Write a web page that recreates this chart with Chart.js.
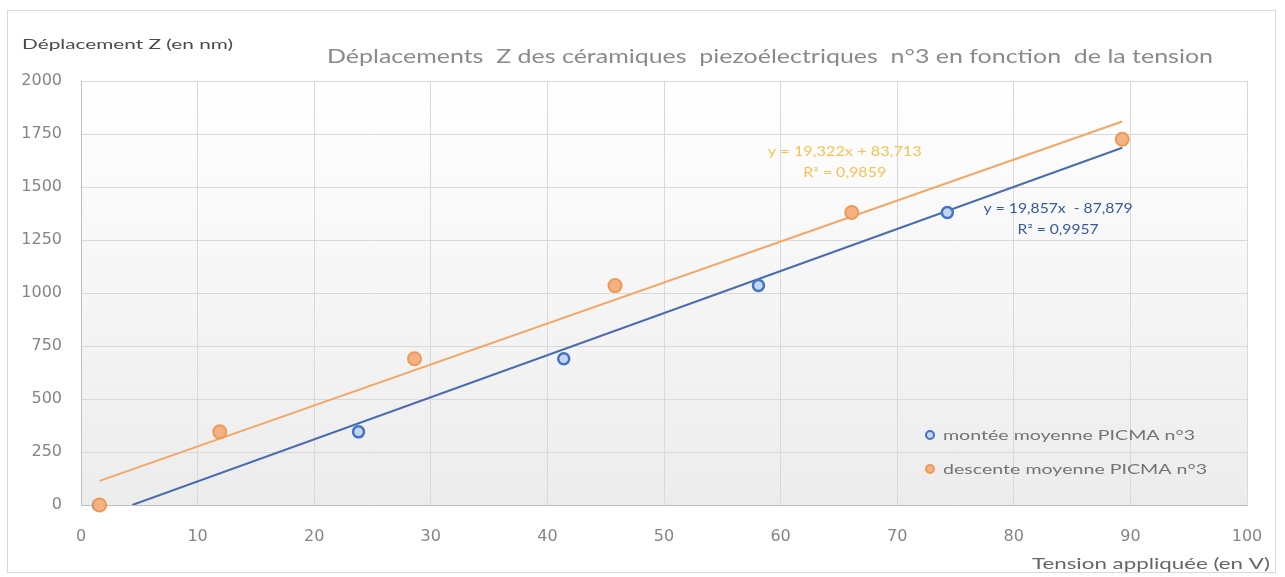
<!DOCTYPE html>
<html>
<head>
<meta charset="utf-8">
<script src="https://cdn.jsdelivr.net/npm/chart.js@4.4.1/dist/chart.umd.min.js"></script>
<style>
  html, body { margin: 0; padding: 0; background: #fff; overflow: hidden; }
</style>
</head>
<body>
<canvas id="graphe" width="1285" height="577"></canvas>
<script>
// ------------------- Données -------------------
const tensionMontee = [1.5, 23.8, 41.4, 58.1, 74.3, 89.3];
const deplMontee = [0, 345, 690, 1035, 1380, 1725];
const tensionDescente = [1.6, 11.9, 28.6, 45.8, 66.1, 89.3];
const deplDescente = [0, 345, 690, 1035, 1380, 1725];

// courbes de tendance (extrémités)
const tendanceMonteeX = [4.4, 89.3];
const tendanceMonteeY = [0, 1685];
const tendanceDescenteX = [1.6, 89.3];
const tendanceDescenteY = [114, 1809];

const equationMontee = ["y = 19,857x  - 87,879", "R² = 0,9957"];
const equationDescente = ["y = 19,322x + 83,713", "R² = 0,9859"];
const posEquationMontee = [83.8, 1396]; // (x, y) en unités du graphique
const posEquationDescente = [65.5, 1665];

const titre = "Déplacements  Z des céramiques  piezoélectriques  n°3 en fonction  de la tension";
const titreY = "Déplacement Z (en nm)";
const titreX = "Tension appliquée (en V)";
const labelMontee = "montée moyenne PICMA n°3";
const labelDescente = "descente moyenne PICMA n°3";

const toPoints = (xs, ys) => xs.map((x, i) => ({ x: x, y: ys[i] }));

const BLEU = "#4472c4";
const ORANGE = "#ed9a55";
const POLICE = "Lato, 'Open Sans', sans-serif";
const POLICE_AXES = "'DejaVu Sans', sans-serif";

// texte étiré horizontalement (le graphique d'origine est élargi)
function texteEtire(ctx, texte, x, y, largeur, align) {
  const w = ctx.measureText(texte).width;
  const f = largeur / w;
  ctx.save();
  ctx.translate(x, y);
  ctx.scale(f, 1);
  ctx.textAlign = align;
  ctx.fillText(texte, 0, 0);
  ctx.restore();
}

// ------------------- Plugin : cadre, fond, textes, légende -------------------
const decor = {
  id: "decor",
  beforeDraw(chart) {
    const { ctx, chartArea: a } = chart;
    ctx.save();
    ctx.fillStyle = "#fff";
    ctx.fillRect(0, 0, chart.width, chart.height);
    ctx.strokeStyle = "#d9d9d9";
    ctx.lineWidth = 1;
    ctx.strokeRect(7.5, 10.5, 1268, 562);
    const grad = ctx.createLinearGradient(0, a.top, 0, a.bottom);
    grad.addColorStop(0, "#ffffff");
    grad.addColorStop(1, "#ececec");
    ctx.fillStyle = grad;
    ctx.fillRect(a.left, a.top, a.right - a.left, a.bottom - a.top);
    ctx.restore();
  },
  afterDraw(chart) {
    const { ctx, scales } = chart;
    const sx = scales.x, sy = scales.y;
    ctx.save();
    ctx.textBaseline = "middle";
    // titres
    ctx.fillStyle = "#8a8a8a";
    ctx.font = "20px " + POLICE;
    texteEtire(ctx, titre, 770, 57, 886, "center");
    ctx.fillStyle = "#4a4a4a";
    ctx.font = "13px " + POLICE;
    texteEtire(ctx, titreY, 22, 45, 211, "left");
    ctx.fillStyle = "#666666";
    ctx.font = "16px " + POLICE;
    texteEtire(ctx, titreX, 1270, 564, 238, "right");

    // équations des courbes de tendance
    ctx.font = "13px " + POLICE;
    const eq = (lignes, pos, couleur, l1, l2) => {
      const px = sx.getPixelForValue(pos[0]);
      const py = sy.getPixelForValue(pos[1]);
      ctx.fillStyle = couleur;
      texteEtire(ctx, lignes[0], px, py, l1, "center");
      texteEtire(ctx, lignes[1], px, py + 21, l2, "center");
    };
    eq(equationDescente, posEquationDescente, "#f7c252", 154, 83);
    eq(equationMontee, posEquationMontee, "#34599c", 149, 81);

    // légende
    const leg = [
      { texte: labelMontee, ds: chart.data.datasets[1], l: 252 },
      { texte: labelDescente, ds: chart.data.datasets[0], l: 264 },
    ];
    ctx.font = "14px " + POLICE;
    leg.forEach((e, i) => {
      const y = 435 + i * 34;
      ctx.beginPath();
      ctx.arc(930, y, 4, 0, Math.PI * 2);
      ctx.fillStyle = e.ds.backgroundColor;
      ctx.fill();
      ctx.lineWidth = 2;
      ctx.strokeStyle = e.ds.borderColor;
      ctx.stroke();
      ctx.fillStyle = "#737373";
      texteEtire(ctx, e.texte, 943, y, e.l, "left");
    });
    ctx.restore();
  },
};

// ------------------- Graphique -------------------
new Chart(document.getElementById("graphe"), {
  type: "scatter",
  data: {
    datasets: [
      {
        label: labelDescente,
        data: toPoints(tensionDescente, deplDescente),
        backgroundColor: "#f4b183",
        borderColor: ORANGE,
        borderWidth: 2,
        pointRadius: 6.5,
        clip: false,
      },
      {
        label: labelMontee,
        data: toPoints(tensionMontee, deplMontee),
        backgroundColor: "#c5d7f0",
        borderColor: BLEU,
        borderWidth: 2.5,
        pointRadius: 5.5,
        clip: false,
      },
      {
        label: "tendance descente",
        type: "line",
        data: toPoints(tendanceDescenteX, tendanceDescenteY),
        borderColor: "#f4a664",
        borderWidth: 2,
        pointRadius: 0,
        fill: false,
      },
      {
        label: "tendance montée",
        type: "line",
        data: toPoints(tendanceMonteeX, tendanceMonteeY),
        borderColor: "#4a6bb0",
        borderWidth: 2,
        pointRadius: 0,
        fill: false,
      },
    ],
  },
  options: {
    responsive: false,
    animation: false,
    layout: { padding: { left: 0, top: 81, right: 38, bottom: 0 } },
    plugins: {
      legend: { display: false },
      tooltip: { enabled: false },
      title: { display: false },
    },
    scales: {
      x: {
        type: "linear",
        min: 0,
        max: 100,
        ticks: {
          stepSize: 10,
          color: "#858585",
          font: { family: POLICE_AXES, size: 16 },
          padding: 22,
          callback: (v) => String(v),
        },
        grid: { color: "#d9d9d9", drawTicks: false },
        border: { color: "#bfbfbf" },
        afterFit(scale) { scale.height = 72; },
      },
      y: {
        min: 0,
        max: 2000,
        ticks: {
          stepSize: 250,
          color: "#858585",
          font: { family: POLICE_AXES, size: 16 },
          padding: 19,
          callback: (v) => String(v),
        },
        grid: { color: "#d9d9d9", drawTicks: false },
        border: { color: "#bfbfbf" },
        afterFit(scale) { scale.width = 81; },
      },
    },
  },
  plugins: [decor],
});
</script>
</body>
</html>
